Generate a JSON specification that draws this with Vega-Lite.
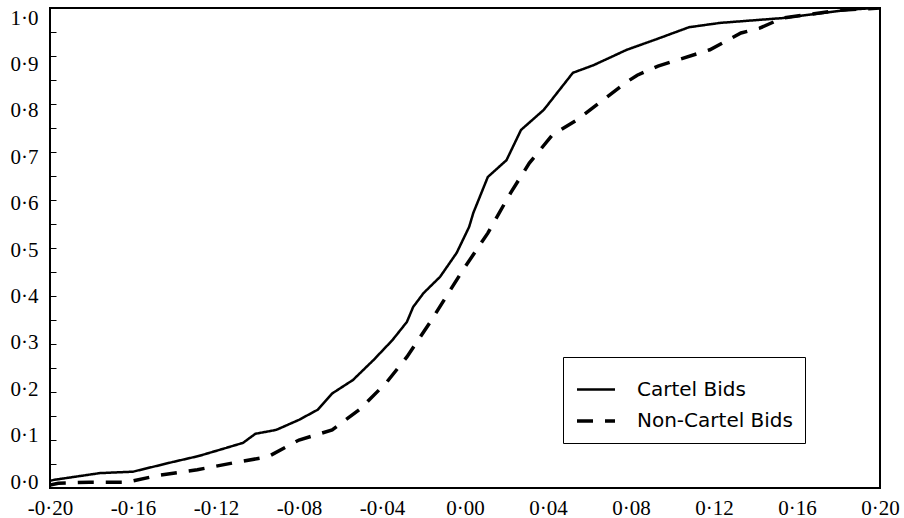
{
  "$schema": "https://vega.github.io/schema/vega-lite/v6.json",
  "width": 830,
  "height": 480,
  "autosize": {"type": "none"},
  "padding": {"left": 50, "top": 8, "right": 24, "bottom": 30},
  "background": "white",
  "config": {
    "view": {"stroke": "black", "strokeWidth": 2},
    "axis": {
      "labelFont": "Liberation Serif",
      "labelFontSize": 21,
      "labelColor": "black",
      "tickColor": "black",
      "domain": false,
      "grid": false
    }
  },
  "data": {
    "values": [
      {"x": -0.200, "y": 0.015, "series": "Cartel Bids"},
      {"x": -0.198, "y": 0.017, "series": "Cartel Bids"},
      {"x": -0.176, "y": 0.031, "series": "Cartel Bids"},
      {"x": -0.160, "y": 0.034, "series": "Cartel Bids"},
      {"x": -0.141, "y": 0.054, "series": "Cartel Bids"},
      {"x": -0.128, "y": 0.067, "series": "Cartel Bids"},
      {"x": -0.107, "y": 0.094, "series": "Cartel Bids"},
      {"x": -0.101, "y": 0.113, "series": "Cartel Bids"},
      {"x": -0.091, "y": 0.121, "series": "Cartel Bids"},
      {"x": -0.080, "y": 0.142, "series": "Cartel Bids"},
      {"x": -0.071, "y": 0.163, "series": "Cartel Bids"},
      {"x": -0.064, "y": 0.197, "series": "Cartel Bids"},
      {"x": -0.054, "y": 0.225, "series": "Cartel Bids"},
      {"x": -0.044, "y": 0.267, "series": "Cartel Bids"},
      {"x": -0.035, "y": 0.308, "series": "Cartel Bids"},
      {"x": -0.028, "y": 0.346, "series": "Cartel Bids"},
      {"x": -0.025, "y": 0.377, "series": "Cartel Bids"},
      {"x": -0.020, "y": 0.406, "series": "Cartel Bids"},
      {"x": -0.012, "y": 0.440, "series": "Cartel Bids"},
      {"x": -0.004, "y": 0.490, "series": "Cartel Bids"},
      {"x": 0.002, "y": 0.544, "series": "Cartel Bids"},
      {"x": 0.004, "y": 0.573, "series": "Cartel Bids"},
      {"x": 0.011, "y": 0.648, "series": "Cartel Bids"},
      {"x": 0.020, "y": 0.683, "series": "Cartel Bids"},
      {"x": 0.027, "y": 0.746, "series": "Cartel Bids"},
      {"x": 0.038, "y": 0.788, "series": "Cartel Bids"},
      {"x": 0.052, "y": 0.865, "series": "Cartel Bids"},
      {"x": 0.062, "y": 0.881, "series": "Cartel Bids"},
      {"x": 0.078, "y": 0.913, "series": "Cartel Bids"},
      {"x": 0.091, "y": 0.933, "series": "Cartel Bids"},
      {"x": 0.108, "y": 0.960, "series": "Cartel Bids"},
      {"x": 0.123, "y": 0.969, "series": "Cartel Bids"},
      {"x": 0.153, "y": 0.979, "series": "Cartel Bids"},
      {"x": 0.184, "y": 0.996, "series": "Cartel Bids"},
      {"x": 0.197, "y": 1.000, "series": "Cartel Bids"},
      {"x": 0.200, "y": 1.000, "series": "Cartel Bids"},
      {"x": -0.200, "y": 0.006, "series": "Non-Cartel Bids"},
      {"x": -0.196, "y": 0.010, "series": "Non-Cartel Bids"},
      {"x": -0.181, "y": 0.012, "series": "Non-Cartel Bids"},
      {"x": -0.163, "y": 0.012, "series": "Non-Cartel Bids"},
      {"x": -0.147, "y": 0.027, "series": "Non-Cartel Bids"},
      {"x": -0.129, "y": 0.038, "series": "Non-Cartel Bids"},
      {"x": -0.112, "y": 0.052, "series": "Non-Cartel Bids"},
      {"x": -0.095, "y": 0.065, "series": "Non-Cartel Bids"},
      {"x": -0.080, "y": 0.100, "series": "Non-Cartel Bids"},
      {"x": -0.064, "y": 0.121, "series": "Non-Cartel Bids"},
      {"x": -0.051, "y": 0.163, "series": "Non-Cartel Bids"},
      {"x": -0.038, "y": 0.219, "series": "Non-Cartel Bids"},
      {"x": -0.028, "y": 0.273, "series": "Non-Cartel Bids"},
      {"x": -0.017, "y": 0.344, "series": "Non-Cartel Bids"},
      {"x": -0.007, "y": 0.413, "series": "Non-Cartel Bids"},
      {"x": -0.001, "y": 0.454, "series": "Non-Cartel Bids"},
      {"x": 0.011, "y": 0.531, "series": "Non-Cartel Bids"},
      {"x": 0.022, "y": 0.615, "series": "Non-Cartel Bids"},
      {"x": 0.031, "y": 0.677, "series": "Non-Cartel Bids"},
      {"x": 0.042, "y": 0.735, "series": "Non-Cartel Bids"},
      {"x": 0.054, "y": 0.767, "series": "Non-Cartel Bids"},
      {"x": 0.068, "y": 0.813, "series": "Non-Cartel Bids"},
      {"x": 0.078, "y": 0.846, "series": "Non-Cartel Bids"},
      {"x": 0.083, "y": 0.860, "series": "Non-Cartel Bids"},
      {"x": 0.093, "y": 0.879, "series": "Non-Cartel Bids"},
      {"x": 0.118, "y": 0.913, "series": "Non-Cartel Bids"},
      {"x": 0.133, "y": 0.948, "series": "Non-Cartel Bids"},
      {"x": 0.142, "y": 0.958, "series": "Non-Cartel Bids"},
      {"x": 0.153, "y": 0.979, "series": "Non-Cartel Bids"},
      {"x": 0.180, "y": 0.995, "series": "Non-Cartel Bids"},
      {"x": 0.200, "y": 1.000, "series": "Non-Cartel Bids"}
    ]
  },
  "mark": {"type": "line", "color": "black", "clip": true},
  "encoding": {
    "x": {
      "field": "x",
      "type": "quantitative",
      "scale": {"domain": [-0.2, 0.2], "nice": false, "zero": false},
      "axis": {
        "title": null,
        "values": [-0.2, -0.16, -0.12, -0.08, -0.04, 0, 0.04, 0.08, 0.12, 0.16, 0.2],
        "labelExpr": "replace(replace(format(datum.value, '.2f'), '.', '·'), '−', '-')",
        "ticks": false,
        "labelFlush": false,
        "labelPadding": 9
      }
    },
    "y": {
      "field": "y",
      "type": "quantitative",
      "scale": {"domain": [0, 1], "nice": false},
      "axis": {
        "title": null,
        "values": [0, 0.05, 0.1, 0.15, 0.2, 0.25, 0.3, 0.35, 0.4, 0.45, 0.5, 0.55, 0.6, 0.65, 0.7, 0.75, 0.8, 0.85, 0.9, 0.95, 1.0],
        "labelExpr": "round(datum.value * 20) % 2 == 0 ? replace(format(datum.value, '.1f'), '.', '·') : ''",
        "tickSize": -6,
        "labelPadding": 18,
        "labelOffset": {"expr": "16 * datum.value - 6"},
        "labelFlush": false,
        "labelBound": false
      }
    },
    "strokeDash": {
      "field": "series",
      "type": "nominal",
      "scale": {"domain": ["Cartel Bids", "Non-Cartel Bids"], "range": [[1, 0], [16, 12]]},
      "legend": {
        "title": null,
        "orient": "none",
        "legendX": 513,
        "legendY": 349,
        "strokeColor": "black",
        "fillColor": "white",
        "padding": 12,
        "symbolType": "stroke",
        "symbolStrokeColor": "black",
        "symbolStrokeWidth": 3,
        "symbolSize": 1444,
        "labelFont": "DejaVu Sans",
        "labelFontSize": 20,
        "labelColor": "black",
        "labelOffset": 20,
        "rowPadding": -13
      }
    },
    "strokeWidth": {
      "field": "series",
      "type": "nominal",
      "scale": {"domain": ["Cartel Bids", "Non-Cartel Bids"], "range": [2.5, 3.5]},
      "legend": null
    }
  }
}
